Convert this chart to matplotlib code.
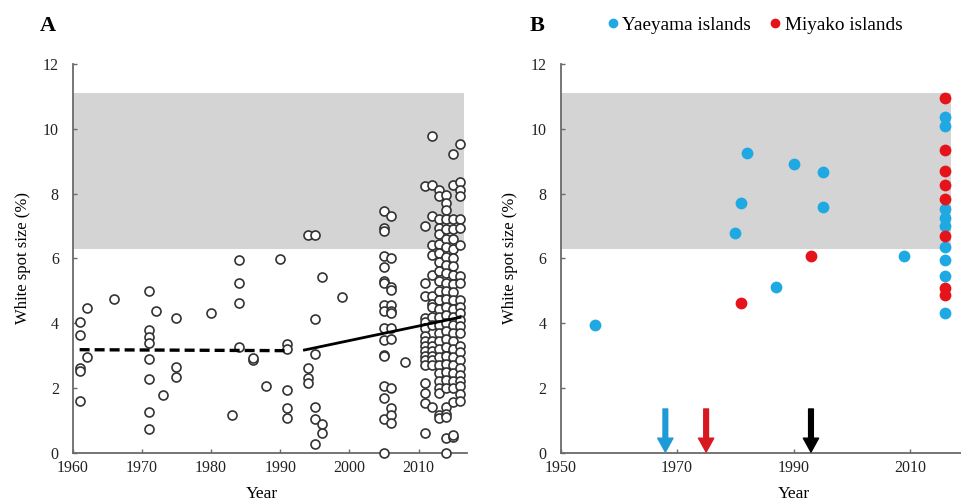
import numpy as np
import matplotlib
matplotlib.use('Agg')
import matplotlib.pyplot as plt
from matplotlib.lines import Line2D

plt.rcParams['font.family'] = ['Liberation Serif', 'DejaVu Serif']

# ---- panel A : white spot size by collection year ----
a_early_years = [1961, 1961, 1961, 1961, 1961, 1962, 1962, 1966,
                 1971, 1971, 1971, 1971, 1971, 1971, 1971, 1971,
                 1972, 1973, 1975, 1975, 1975, 1980, 1983,
                 1984, 1984, 1984, 1984, 1986, 1986, 1988, 1990,
                 1991, 1991, 1991, 1991, 1991, 1994, 1995, 1996, 1999,
                 1995, 1995, 1994, 1994, 1994, 1995, 1995, 1996, 1996, 1995, 2008]
a_early_sizes = [4.05, 3.62, 2.6, 2.53, 1.59, 4.48, 2.96, 4.75,
                 5.0, 3.79, 3.57, 3.4, 2.9, 2.28, 1.25, 0.74,
                 4.36, 1.79, 4.17, 2.66, 2.35, 4.32, 1.16,
                 5.95, 5.24, 4.62, 3.25, 2.87, 2.92, 2.07, 5.99,
                 3.35, 3.2, 1.94, 1.37, 1.08, 6.73, 6.73, 5.43, 4.81,
                 4.14, 3.04, 2.6, 2.31, 2.14, 1.42, 1.03, 0.88, 0.6, 0.26, 2.79]

a_2005 = [7.45, 6.94, 6.83, 6.08, 5.72, 5.31, 5.24, 4.57, 4.36, 3.85, 3.48,
          3.02, 3.0, 2.06, 1.7, 1.03, 0.0]
a_2006 = [7.3, 6.01, 5.11, 5.03, 4.57, 4.36, 4.3, 3.85, 3.52, 1.99, 1.37, 1.17, 0.93]
a_2011 = [8.22, 7.0, 5.24, 4.84, 4.16, 4.05, 3.85, 3.6, 3.45, 3.3, 3.15, 3.0,
          2.85, 2.72, 2.15, 1.85, 1.54, 0.61]
a_2012 = [9.77, 8.27, 7.32, 6.42, 6.11, 5.49, 4.84, 4.6, 4.5, 4.2, 3.95, 3.45,
          3.3, 3.15, 3.0, 2.85, 2.7, 1.42]
a_2013 = [8.12, 7.93, 7.2, 6.95, 6.75, 6.45, 6.15, 5.9, 5.6, 5.3, 5.0, 4.7,
          4.45, 4.2, 3.95, 3.7, 3.45, 3.2, 2.95, 2.7, 2.45, 2.2, 2.0, 1.85, 1.15, 1.07]
a_2014 = [7.96, 7.7, 7.5, 7.2, 6.9, 6.6, 6.35, 6.05, 5.8, 5.55, 5.25, 5.0,
          4.75, 4.5, 4.25, 4.0, 3.75, 3.5, 3.25, 3.0, 2.75, 2.5, 2.25, 2.0,
          1.4, 1.2, 1.1, 0.45, 0.0]
a_2015 = [9.22, 8.27, 7.2, 6.9, 6.6, 6.3, 6.0, 5.75, 5.5, 5.2, 4.95, 4.7,
          4.45, 4.2, 3.95, 3.7, 3.45, 3.2, 2.95, 2.7, 2.45, 2.2, 2.0, 1.58, 0.5, 0.55]
a_2016 = [9.53, 8.35, 8.12, 7.93, 7.2, 6.94, 6.42, 5.45, 5.24, 4.7, 4.5, 4.3,
          4.1, 3.9, 3.7, 3.3, 3.1, 2.85, 2.6, 2.4, 2.2, 2.05, 1.8, 1.6]

a_trend_pre_years = [1961, 1991]
a_trend_pre = [3.18, 3.15]
a_trend_post_years = [1993.5, 2016]
a_trend_post = [3.17, 4.18]

# gray band = range of the reference population
band_low, band_high = 6.3, 11.1

# ---- panel B ----
yae_years = [1956, 1980, 1981, 1982, 1987, 1990, 1995, 1995, 2009,
             2016, 2016, 2016, 2016, 2016, 2016, 2016, 2016, 2016]
yae_sizes = [3.93, 6.79, 7.72, 9.24, 5.12, 8.92, 8.67, 7.58, 6.07,
             10.37, 10.08, 7.51, 7.25, 7.0, 6.35, 5.95, 5.47, 4.3]
miy_years = [1981, 1993, 2016, 2016, 2016, 2016, 2016, 2016, 2016, 2016]
miy_sizes = [4.61, 6.07, 10.96, 9.35, 8.69, 8.27, 7.84, 6.68, 5.07, 4.86]

arrow_years = [1968, 1975, 1993]
arrow_colors = ['#1e9bd7', '#d7191f', '#000000']

blue = '#1fa9e3'
red = '#e5141b'
spine_c = '#6a6a6a'

W, H = 961, 504
fig = plt.figure(figsize=(W / 100, H / 100), dpi=100)


def px_axes(x0, y0, x1, y1):
    return fig.add_axes([x0 / W, 1 - y1 / H, (x1 - x0) / W, (y1 - y0) / H])


def style(ax):
    for s in ['top', 'right']:
        ax.spines[s].set_visible(False)
    for s in ['left', 'bottom']:
        ax.spines[s].set_color(spine_c)
        ax.spines[s].set_linewidth(1.3)
    ax.tick_params(direction='in', length=3, width=1, color=spine_c,
                   labelsize=11.5, colors='#222222')
    ax.tick_params(axis='y', pad=10)
    ax.tick_params(axis='x', pad=5)
    ax.set_ylim(0, 12)
    ax.set_yticks(np.arange(0, 13, 2))
    ax.set_ylabel('White spot size (%)', fontsize=12)
    ax.set_xlabel('Year', fontsize=12.5)


# panel A
axA = px_axes(72.7, 64, 467, 452.7)
style(axA)
axA.set_xlim(1960, 2017)
axA.set_xticks(np.arange(1960, 2011, 10))
axA.fill_between([1960, 2016.5], band_low, band_high, color='#d4d4d4', lw=0, zorder=0)

ax_x = list(a_early_years)
ax_y = list(a_early_sizes)
for yr, col in [(2005, a_2005), (2006, a_2006), (2011, a_2011), (2012, a_2012),
                (2013, a_2013), (2014, a_2014), (2015, a_2015), (2016, a_2016)]:
    ax_x += [yr] * len(col)
    ax_y += col
axA.scatter(ax_x, ax_y, s=42, facecolor='white', edgecolor='#333333',
            linewidth=1.2, zorder=3, clip_on=False)
axA.plot(a_trend_pre_years, a_trend_pre, color='black', lw=2.4,
         linestyle=(0, (3, 1.5)), zorder=4)
axA.plot(a_trend_post_years, a_trend_post, color='black', lw=2.0, zorder=4)
axA.yaxis.set_label_coords(-0.106, 0.5)
axA.xaxis.set_label_coords(0.48, -0.085)
fig.text(40 / W, 1 - 26 / H, 'A', fontsize=16, fontweight='bold', va='center')

# panel B (axis runs on past the right edge of the figure)
axB = px_axes(560.5, 64, 1026.5, 452.7)
style(axB)
axB.set_xlim(1950, 2030)
axB.set_xticks(np.arange(1950, 2011, 20))
axB.fill_between([1950, 2017], band_low, band_high, color='#d4d4d4', lw=0, zorder=0)
axB.scatter(yae_years, yae_sizes, s=72, color=blue, lw=0, zorder=3)
axB.scatter(miy_years, miy_sizes, s=72, color=red, lw=0, zorder=3)
for yr, c in zip(arrow_years, arrow_colors):
    axB.annotate('', xy=(yr, 0.02), xytext=(yr, 1.35),
                 arrowprops=dict(facecolor=c, edgecolor=c, width=3.4,
                                 headwidth=11, headlength=10, shrink=0),
                 zorder=5)
axB.yaxis.set_label_coords(-0.091, 0.5)
axB.xaxis.set_label_coords(0.5, -0.085)
fig.text(530 / W, 1 - 26 / H, 'B', fontsize=16, fontweight='bold', va='center')

handles = [Line2D([], [], marker='o', ls='', color=blue, markersize=6),
           Line2D([], [], marker='o', ls='', color=red, markersize=6)]
fig.legend(handles, ['Yaeyama islands', 'Miyako islands'], loc='center left',
           bbox_to_anchor=(606 / W, 1 - 25 / H), ncol=2, frameon=False,
           fontsize=13.9, handlelength=0.7, handletextpad=0.15, columnspacing=0.9,
           borderaxespad=0, borderpad=0)

fig.savefig('out.png', dpi=100)
